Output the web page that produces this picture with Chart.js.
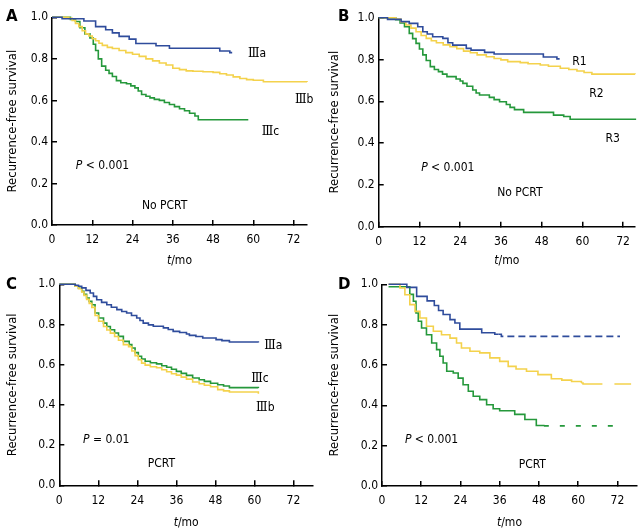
<!DOCTYPE html>
<html>
<head>
<meta charset="utf-8">
<script src="https://cdn.jsdelivr.net/npm/chart.js@4.4.1/dist/chart.umd.min.js"></script>
<style>
  body { margin: 0; background: #fff; }
  #wrap { position: relative; width: 644px; height: 532px; }
  .panel { position: absolute; width: 322px; height: 266px; }
</style>
</head>
<body>
<div id="wrap">
  <div class="panel" style="left:0;top:0"><canvas id="chart-a" width="322" height="266"></canvas></div>
  <div class="panel" style="left:322px;top:0"><canvas id="chart-b" width="322" height="266"></canvas></div>
  <div class="panel" style="left:0;top:266px"><canvas id="chart-c" width="322" height="266"></canvas></div>
  <div class="panel" style="left:322px;top:266px"><canvas id="chart-d" width="322" height="266"></canvas></div>
</div>
<script>
"use strict";

// tick labels
const xTicks = [0, 12, 24, 36, 48, 60, 72];
const yTicks = [0, 0.2, 0.4, 0.6, 0.8, 1.0];

// A: No PCRT, by stage
const aMonthsIIIa = [0, 3, 9.5, 13, 16, 18, 20, 23, 25, 31, 35, 50, 53, 53.7];
const aSurvIIIa = [1.0, 0.993, 0.982, 0.955, 0.94, 0.925, 0.908, 0.895, 0.874, 0.863, 0.851, 0.838, 0.83, 0.83];
const aMonthsIIIb = [0, 5, 6, 7, 8, 9, 10, 11, 12, 13, 14, 15, 16.5, 18, 20, 22, 24, 26, 28, 30, 32, 34, 36, 38, 40, 42, 45, 48, 50, 52, 54, 56, 58, 60, 63, 76];
const aSurvIIIb = [1.0, 0.995, 0.985, 0.97, 0.955, 0.935, 0.92, 0.91, 0.897, 0.887, 0.875, 0.865, 0.855, 0.85, 0.84, 0.83, 0.822, 0.812, 0.8, 0.79, 0.78, 0.77, 0.755, 0.748, 0.742, 0.74, 0.738, 0.735, 0.728, 0.722, 0.713, 0.705, 0.7, 0.697, 0.69, 0.688];
const aMonthsIIIc = [0, 5.5, 7, 8.3, 9.8, 11.3, 12.3, 13, 13.8, 14.8, 16, 17, 18, 19.2, 20.5, 22.2, 23.5, 24.7, 25.7, 26.7, 28, 29.2, 30.5, 32, 33.5, 35, 36.5, 38, 39.5, 41, 42.6, 43.6, 58.5];
const aSurvIIIc = [1.0, 0.99, 0.98, 0.95, 0.92, 0.9, 0.87, 0.84, 0.8, 0.765, 0.745, 0.73, 0.715, 0.695, 0.685, 0.68, 0.67, 0.66, 0.645, 0.628, 0.62, 0.612, 0.605, 0.6, 0.59, 0.58, 0.57, 0.56, 0.55, 0.538, 0.525, 0.507, 0.507];

// B: No PCRT, by R group
const bMonthsR1 = [0, 2.6, 6.6, 9, 11.5, 13, 14.3, 15.9, 18.9, 20.4, 21.8, 25.8, 27.2, 31.2, 34, 48.5, 52.5, 53.3];
const bSurvR1 = [1.0, 0.992, 0.981, 0.973, 0.957, 0.933, 0.922, 0.909, 0.901, 0.88, 0.869, 0.853, 0.845, 0.834, 0.826, 0.812, 0.803, 0.803];
const bMonthsR2 = [0, 5, 6.5, 8, 9.5, 11, 12.5, 14, 15.5, 17, 19, 21, 23, 25, 27, 29, 31.7, 34, 36, 38, 41.7, 44, 47.6, 50, 53.5, 56, 58.4, 60.5, 62.8, 75.5];
const bSurvR2 = [1.0, 0.993, 0.98, 0.965, 0.95, 0.933, 0.915, 0.901, 0.89, 0.88, 0.87, 0.861, 0.852, 0.84, 0.832, 0.822, 0.813, 0.805, 0.798, 0.79, 0.785, 0.78, 0.774, 0.768, 0.758, 0.752, 0.745, 0.738, 0.73, 0.729];
const bMonthsR3 = [0, 5, 6.3, 7.6, 9, 10, 11, 12, 13, 14, 15.2, 16.4, 17.6, 18.8, 20.1, 22.8, 24, 24.8, 26, 27.7, 28.7, 29.7, 32.6, 34, 35.6, 37.6, 38.7, 40, 42.7, 51.5, 54.5, 56.4, 75.6];
const bSurvR3 = [1.0, 0.99, 0.975, 0.957, 0.925, 0.9, 0.877, 0.85, 0.822, 0.795, 0.766, 0.752, 0.742, 0.73, 0.718, 0.707, 0.697, 0.686, 0.672, 0.654, 0.64, 0.63, 0.619, 0.608, 0.598, 0.585, 0.571, 0.56, 0.547, 0.534, 0.527, 0.514, 0.51];

// C: PCRT, by stage
const cMonthsIIIa = [0, 4.9, 5.9, 6.9, 8.2, 9.5, 10.5, 11.5, 13, 14.6, 16, 17.7, 19.2, 20.7, 22.2, 23.8, 24.8, 25.8, 27.4, 28.9, 32, 33.5, 35, 37, 39.1, 40, 42, 44.1, 48.2, 50, 52.3, 61.2];
const cSurvIIIa = [1.0, 0.995, 0.99, 0.982, 0.97, 0.957, 0.94, 0.923, 0.91, 0.898, 0.886, 0.874, 0.865, 0.857, 0.845, 0.832, 0.82, 0.807, 0.798, 0.791, 0.783, 0.775, 0.766, 0.76, 0.753, 0.746, 0.74, 0.733, 0.725, 0.72, 0.713, 0.711];
const cMonthsIIIb = [0, 4.9, 5.9, 6.9, 7.6, 8.4, 9.2, 10, 11, 12.1, 13.6, 14.6, 15.7, 17, 18.2, 19.7, 21.3, 22.3, 23.3, 24.3, 25.3, 26.4, 28, 29.9, 31.5, 33, 34.5, 36, 37.5, 39.1, 41, 43, 44.6, 46.5, 48.7, 50.5, 52.3, 61.2];
const cSurvIIIb = [1.0, 0.99, 0.978, 0.962, 0.945, 0.925, 0.905, 0.885, 0.845, 0.816, 0.79, 0.773, 0.757, 0.74, 0.722, 0.7, 0.69, 0.668, 0.645, 0.625, 0.608, 0.598, 0.59, 0.585, 0.575, 0.565, 0.555, 0.548, 0.538, 0.528, 0.514, 0.505, 0.498, 0.49, 0.476, 0.47, 0.464, 0.456];
const cMonthsIIIc = [0, 4.9, 5.9, 6.9, 7.6, 8.4, 9.2, 10, 11, 12.1, 13.6, 14.6, 15.7, 17, 18.2, 19.7, 21.5, 22.3, 23.3, 24.3, 25.3, 26.4, 28, 29.9, 31.5, 33, 34.5, 36, 37.5, 39.1, 41, 43, 44.6, 46.5, 48.7, 50.5, 52.3, 61.2];
const cSurvIIIc = [1.0, 0.99, 0.98, 0.965, 0.95, 0.932, 0.915, 0.898, 0.857, 0.832, 0.807, 0.79, 0.774, 0.758, 0.741, 0.716, 0.7, 0.683, 0.66, 0.642, 0.628, 0.617, 0.61, 0.604, 0.595, 0.587, 0.577, 0.567, 0.557, 0.547, 0.534, 0.525, 0.517, 0.508, 0.5, 0.494, 0.486, 0.484];

// D: PCRT, by R group (dashed where no further events)
const dMonthsR1 = [2, 7.6, 10.6, 13.8, 16, 17.3, 18.7, 20.8, 22.3, 23.8, 30.5, 34.5, 35.6, 36.5, 72.8];
const dSurvR1 = [1.0, 0.985, 0.94, 0.918, 0.895, 0.87, 0.85, 0.825, 0.808, 0.778, 0.76, 0.752, 0.752, 0.742, 0.742];
const dMonthsR2 = [2, 5.5, 7, 8.5, 10.1, 11.6, 13.6, 15.7, 18.2, 20.8, 22.8, 24.3, 26.9, 29.9, 33, 36, 38.6, 41, 44.2, 47.7, 51.8, 55, 58, 61, 61.5, 76.2];
const dSurvR2 = [1.0, 0.982, 0.948, 0.899, 0.866, 0.833, 0.792, 0.767, 0.75, 0.733, 0.709, 0.684, 0.668, 0.66, 0.635, 0.618, 0.593, 0.58, 0.569, 0.552, 0.532, 0.525, 0.518, 0.511, 0.506, 0.506];
const dMonthsR3 = [2, 8.5, 9.6, 10.4, 11.1, 12.1, 13.6, 15.2, 16.7, 17.7, 18.7, 19.8, 21.8, 23.3, 24.8, 26.4, 27.9, 29.9, 32, 34, 36, 40.6, 43.7, 47.2, 49.5, 73.8];
const dSurvR3 = [0.988, 0.95, 0.916, 0.858, 0.817, 0.783, 0.75, 0.709, 0.676, 0.643, 0.61, 0.569, 0.56, 0.535, 0.502, 0.47, 0.445, 0.428, 0.403, 0.383, 0.373, 0.355, 0.33, 0.3, 0.298, 0.298];
const dDashFrom = [35.6, 61, 49.5];

const BLUE = "#2f4c9c";
const YELLOW = "#f4d24c";
const GREEN = "#25983b";

const FAMILY = "'DejaVu Sans Condensed', 'DejaVu Sans', sans-serif";
const F_NORMAL = `12px ${FAMILY}`;
const F_ITALIC = `italic 12px ${FAMILY}`;
const F_ROMAN = "12px 'DejaVu Serif', 'Noto Sans CJK SC', serif";

Chart.defaults.font.family = FAMILY;
Chart.defaults.font.size = 12;
Chart.defaults.color = "#000";

const pNote = rest => [["P", F_ITALIC], [rest, F_NORMAL]];
const stage = s => [["Ⅲ", F_ROMAN], [s, F_NORMAL]];
const plain = s => [[s, F_NORMAL]];

function drawRuns(ctx, runs, x, y, align) {
  const widths = runs.map(r => {
    ctx.font = r[1];
    return ctx.measureText(r[0]).width;
  });
  const total = widths.reduce((a, b) => a + b, 0);
  let cx = align === "center" ? x - total / 2 : x;
  runs.forEach((r, i) => {
    ctx.font = r[1];
    ctx.fillText(r[0], cx, y);
    cx += widths[i];
  });
}

const panelText = {
  id: "panelText",
  afterDraw(chart, args, opts) {
    const { ctx, chartArea, scales } = chart;
    ctx.save();
    ctx.fillStyle = "#000";
    ctx.textBaseline = "middle";
    ctx.textAlign = "left";
    ctx.font = `bold 15px 'DejaVu Sans', sans-serif`;
    ctx.fillText(opts.letter, opts.letterPos[0], opts.letterPos[1]);
    drawRuns(ctx, [["t", F_ITALIC], ["/mo", F_NORMAL]],
      (chartArea.left + chartArea.right) / 2, opts.xTitleY, "center");
    opts.notes.forEach(n => {
      drawRuns(ctx, n.runs, scales.x.getPixelForValue(n.x), scales.y.getPixelForValue(n.y));
    });
    ctx.restore();
  }
};

function series(months, surv, color, dashFrom, dash) {
  return {
    data: months.map((m, i) => ({ x: m, y: surv[i] })),
    stepped: true,
    borderColor: color,
    borderWidth: 1.6,
    pointRadius: 0,
    fill: false,
    clip: 4,
    segment: dashFrom == null ? {} : {
      borderDash: ctx => (ctx.p0.parsed.x >= dashFrom ? dash : undefined)
    }
  };
}

function makePanel(id, frame, datasets, text) {
  return new Chart(document.getElementById(id), {
    type: "line",
    data: { datasets },
    options: {
      responsive: false,
      animation: false,
      devicePixelRatio: 1,
      layout: { padding: { left: 0, top: frame.top, right: 322 - frame.right, bottom: 0 } },
      plugins: { legend: { display: false }, tooltip: { enabled: false }, panelText: text },
      scales: {
        x: {
          type: "linear",
          min: 0,
          max: frame.xMax,
          afterBuildTicks: s => { s.ticks = xTicks.map(v => ({ value: v })); },
          afterFit: s => { s.height = 266 - frame.bottom; },
          border: { display: true, color: "#000", width: 1.5 },
          grid: { drawOnChartArea: false, tickLength: -5, color: "#000", lineWidth: 1.5 },
          ticks: { padding: 13, maxRotation: 0, autoSkip: false, font: { size: 12 } }
        },
        y: {
          min: 0,
          max: 1,
          afterBuildTicks: s => { s.ticks = yTicks.map(v => ({ value: v })); },
          afterFit: s => { s.width = frame.left; },
          border: { display: true, color: "#000", width: 1.5 },
          grid: { drawOnChartArea: false, tickLength: -5, color: "#000", lineWidth: 1.5 },
          ticks: { padding: 9, callback: v => v.toFixed(1), font: { size: 12 } },
          title: {
            display: true,
            text: "Recurrence-free survival",
            padding: { top: 5, bottom: 0 },
            font: { size: 13 }
          }
        }
      }
    },
    plugins: [panelText]
  });
}

makePanel("chart-a", { left: 52, right: 307, top: 17.3, bottom: 225, xMax: 76 }, [
  series(aMonthsIIIa, aSurvIIIa, BLUE),
  series(aMonthsIIIb, aSurvIIIb, YELLOW),
  series(aMonthsIIIc, aSurvIIIc, GREEN)
], {
  letter: "A", letterPos: [6, 17], xTitleY: 261,
  notes: [
    { runs: pNote(" < 0.001"), x: 7.1, y: 0.284 },
    { runs: plain("No PCRT"), x: 26.8, y: 0.092 },
    { runs: stage("a"), x: 58.4, y: 0.823 },
    { runs: stage("b"), x: 72.4, y: 0.602 },
    { runs: stage("c"), x: 62.5, y: 0.448 }
  ]
});

makePanel("chart-b", { left: 56.7, right: 313, top: 17.7, bottom: 226.7, xMax: 75.5 }, [
  series(bMonthsR1, bSurvR1, BLUE),
  series(bMonthsR2, bSurvR2, YELLOW),
  series(bMonthsR3, bSurvR3, GREEN)
], {
  letter: "B", letterPos: [16, 17], xTitleY: 261,
  notes: [
    { runs: pNote(" < 0.001"), x: 12.5, y: 0.281 },
    { runs: plain("No PCRT"), x: 34.9, y: 0.161 },
    { runs: plain("R1"), x: 57, y: 0.788 },
    { runs: plain("R2"), x: 62, y: 0.635 },
    { runs: plain("R3"), x: 66.8, y: 0.42 }
  ]
});

makePanel("chart-c", { left: 59.3, right: 313, top: 18.3, bottom: 219.3, xMax: 78 }, [
  series(cMonthsIIIa, cSurvIIIa, BLUE),
  series(cMonthsIIIb, cSurvIIIb, YELLOW),
  series(cMonthsIIIc, cSurvIIIc, GREEN)
], {
  letter: "C", letterPos: [6, 19], xTitleY: 257,
  notes: [
    { runs: pNote(" = 0.01"), x: 7.3, y: 0.225 },
    { runs: plain("PCRT"), x: 27.2, y: 0.106 },
    { runs: stage("a"), x: 63, y: 0.693 },
    { runs: stage("c"), x: 59, y: 0.529 },
    { runs: stage("b"), x: 60.5, y: 0.384 }
  ]
});

makePanel("chart-d", { left: 60, right: 315, top: 18.3, bottom: 220, xMax: 78 }, [
  series(dMonthsR1, dSurvR1, BLUE, dDashFrom[0], [7, 4]),
  series(dMonthsR2, dSurvR2, YELLOW, dDashFrom[1], [22, 12]),
  series(dMonthsR3, dSurvR3, GREEN, dDashFrom[2], [5, 11])
], {
  letter: "D", letterPos: [16, 19], xTitleY: 257,
  notes: [
    { runs: pNote(" < 0.001"), x: 7, y: 0.228 },
    { runs: plain("PCRT"), x: 41.8, y: 0.104 }
  ]
});
</script>
</body>
</html>
